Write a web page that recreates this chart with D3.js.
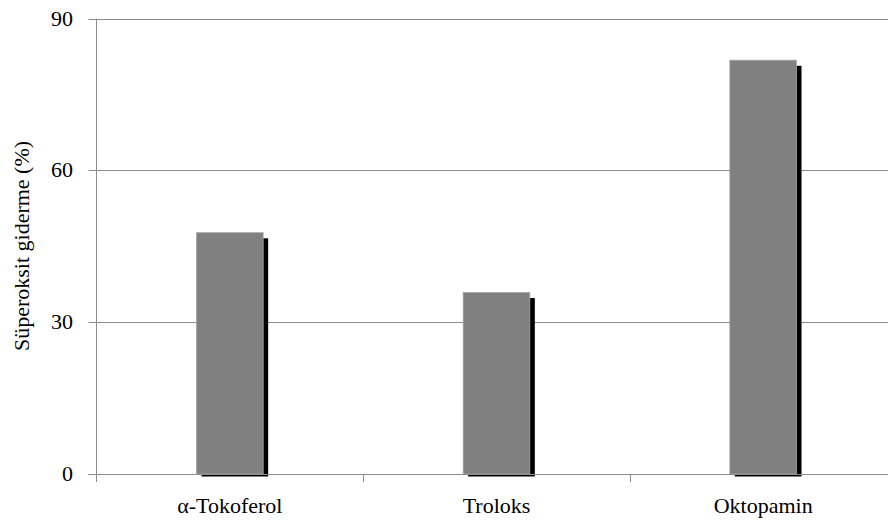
<!DOCTYPE html>
<html>
<head>
<meta charset="utf-8">
<script src="https://cdn.jsdelivr.net/npm/d3@7"></script>
</head>
<body style="margin:0;background:#fff">
<script>
// Süperoksit giderme aktivitesi (%)
const categories = ["α-Tokoferol", "Troloks", "Oktopamin"];
const values = [47.7, 35.9, 81.8];
const yTicks = [0, 30, 60, 90];

const serif = '"Liberation Serif", Tinos, "Times New Roman", Times, serif';

const svg = d3.select("body").append("svg")
  .attr("width", 888).attr("height", 525)
  .style("display", "block");
const plotLeft = 96.5, plotTop = 18.7, plotBottom = 474, plotRight = 896.5;

const x = d3.scaleBand().domain(categories).range([plotLeft, plotRight]).paddingInner(0.75).paddingOuter(0.375);
const xBoundary = d3.scaleLinear().domain([0, categories.length]).range([plotLeft, plotRight]);
const y = d3.scaleLinear().domain([0, 90]).range([plotBottom, plotTop]);

const grid = "#8c8c8c";

// horizontal gridlines with left tick stubs
svg.append("g").selectAll("line").data(yTicks).join("line")
  .attr("x1", plotLeft - 8).attr("x2", 888)
  .attr("y1", d => Math.round(y(d)) + 0.5).attr("y2", d => Math.round(y(d)) + 0.5)
  .attr("stroke", grid).attr("stroke-width", 1);

// y tick labels
svg.append("g").selectAll("text").data(yTicks).join("text")
  .attr("x", 73).attr("y", d => y(d) + 7)
  .attr("text-anchor", "end")
  .attr("font-size", 22)
  .style("font-family", serif)
  .text(d => d);

// shadows
const bars = svg.append("g");
bars.selectAll("rect.shadow").data(values).join("rect")
  .attr("class", "shadow")
  .attr("x", (d, i) => x(categories[i]) + 5)
  .attr("y", d => y(d) + 5.6)
  .attr("width", x.bandwidth())
  .attr("height", d => plotBottom + 2.5 - (y(d) + 5.6))
  .attr("fill", "#000");

// bars
bars.selectAll("rect.bar").data(values).join("rect")
  .attr("class", "bar")
  .attr("x", (d, i) => x(categories[i]))
  .attr("y", d => y(d))
  .attr("width", x.bandwidth())
  .attr("height", d => plotBottom - y(d))
  .attr("fill", "#808080")
  .attr("stroke", "#a6a6a6").attr("stroke-width", 0.8);

// baseline redrawn over the bar bottoms
svg.append("line")
  .attr("x1", plotLeft - 8).attr("x2", 888)
  .attr("y1", plotBottom + 0.5).attr("y2", plotBottom + 0.5)
  .attr("stroke", grid);

// y axis line
svg.append("line")
  .attr("x1", plotLeft).attr("x2", plotLeft)
  .attr("y1", plotTop).attr("y2", plotBottom + 8)
  .attr("stroke", grid);

// category boundary ticks
svg.append("g").selectAll("line").data(d3.range(1, categories.length + 1)).join("line")
  .attr("x1", d => Math.round(xBoundary(d)) + 0.5).attr("x2", d => Math.round(xBoundary(d)) + 0.5)
  .attr("y1", plotBottom).attr("y2", plotBottom + 8)
  .attr("stroke", grid);

// category labels
svg.append("g").selectAll("text").data(categories).join("text")
  .attr("x", d => x(d) + x.bandwidth() / 2)
  .attr("y", 513)
  .attr("text-anchor", "middle")
  .attr("font-size", 22)
  .style("font-family", serif)
  .text(d => d);

// y axis title
svg.append("text")
  .attr("transform", "translate(29,246) rotate(-90)")
  .attr("text-anchor", "middle")
  .attr("font-size", 22)
  .style("font-family", serif)
  .text("Süperoksit giderme (%)");
</script>
</body>
</html>
